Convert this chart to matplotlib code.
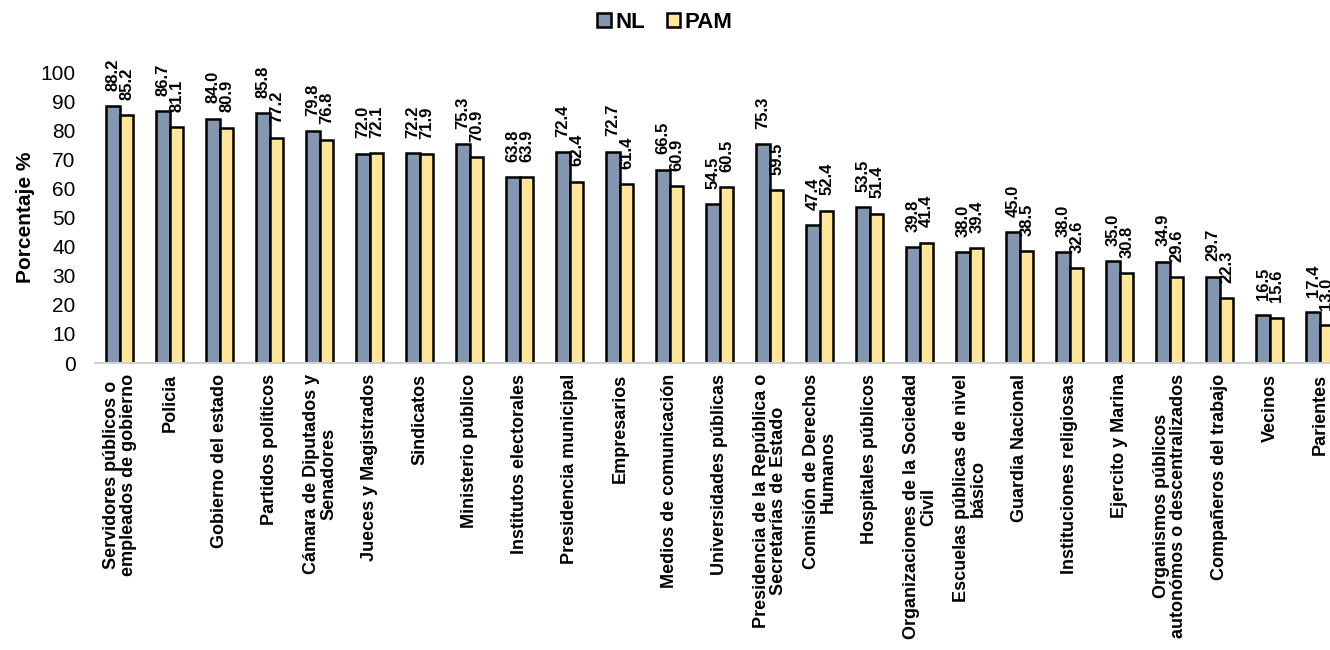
import matplotlib.pyplot as plt
import numpy as np

plt.rcParams['font.family'] = ['Liberation Sans', 'DejaVu Sans']

categories = [
    'Servidores públicos o\nempleados de gobierno', 'Policia', 'Gobierno del estado',
    'Partidos políticos', 'Cámara de Diputados y\nSenadores', 'Jueces y Magistrados',
    'Sindicatos', 'Ministerio público', 'Institutos electorales', 'Presidencia municipal',
    'Empresarios', 'Medios de comunicación', 'Universidades públicas',
    'Presidencia de la República o\nSecretarías de Estado', 'Comisión de Derechos\nHumanos',
    'Hospitales públicos', 'Organizaciones de la Sociedad\nCivil',
    'Escuelas públicas de nivel\nbásico', 'Guardia Nacional', 'Instituciones religiosas',
    'Ejercito y Marina', 'Organismos públicos\nautonómos o descentralizados',
    'Compañeros del trabajo', 'Vecinos', 'Parientes',
]
nl = [88.2, 86.7, 84.0, 85.8, 79.8, 72.0, 72.2, 75.3, 63.8, 72.4, 72.7, 66.5, 54.5,
      75.3, 47.4, 53.5, 39.8, 38.0, 45.0, 38.0, 35.0, 34.9, 29.7, 16.5, 17.4]
pam = [85.2, 81.1, 80.9, 77.2, 76.8, 72.1, 71.9, 70.9, 63.9, 62.4, 61.4, 60.9, 60.5,
       59.5, 52.4, 51.4, 41.4, 39.4, 38.5, 32.6, 30.8, 29.6, 22.3, 15.6, 13.0]

fig = plt.figure(figsize=(13.3, 6.5), dpi=100)
ax = fig.add_axes([0.0714, 0.4415, 0.9286, 0.4475])

x = np.arange(len(categories))
w = 0.27
b1 = ax.bar(x - w / 2, nl, w, color='#8497B0', edgecolor='black', linewidth=1.8, label='NL')
b2 = ax.bar(x + w / 2, pam, w, color='#FFE699', edgecolor='black', linewidth=1.8, label='PAM')

for xi, v in zip(x, nl):
    ax.annotate(f'{v:.1f}', (xi - w / 2, v), xytext=(0, 11), textcoords='offset points',
                rotation=90, ha='center', va='bottom', fontsize=12, fontweight='bold',
                annotation_clip=False)
for xi, v in zip(x, pam):
    ax.annotate(f'{v:.1f}', (xi + w / 2, v), xytext=(0, 11), textcoords='offset points',
                rotation=90, ha='center', va='bottom', fontsize=12, fontweight='bold',
                annotation_clip=False)

ax.set_xlim(-0.5, 24.2)
ax.set_ylim(0, 100)
ax.set_yticks(range(0, 101, 10))
ax.tick_params(axis='y', length=0, labelsize=15, pad=14)
ax.set_xticks(x)
ax.set_xticklabels(categories, rotation=90, fontsize=13, fontweight='bold',
                   ha='center', va='top', multialignment='center', linespacing=1.0)
ax.tick_params(axis='x', length=0, pad=8)
for s in ['top', 'right', 'left']:
    ax.spines[s].set_visible(False)
ax.spines['bottom'].set_color('#D0D0D0')
ax.spines['bottom'].set_linewidth(1.5)
ax.set_ylabel('Porcentaje %', fontsize=15, fontweight='bold', labelpad=4)

fig.legend(handles=[b1, b2], labels=['NL', 'PAM'], loc='center', bbox_to_anchor=(0.5, 0.966),
           ncol=2, frameon=False, handlelength=0.6, handleheight=0.6, handletextpad=0.2,
           columnspacing=1.0, prop={'weight': 'bold', 'size': 16})

fig.savefig('out.png', dpi=100)
